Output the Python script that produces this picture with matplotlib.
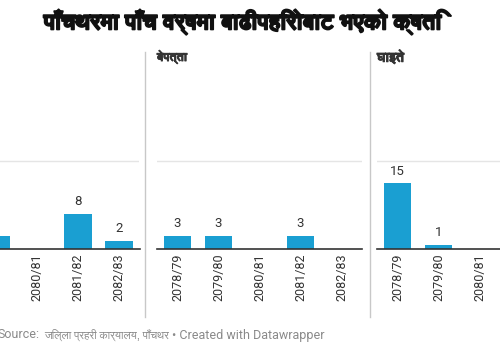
import matplotlib
matplotlib.use("Agg")
import matplotlib.pyplot as plt
from matplotlib import font_manager
from matplotlib.ft2font import FT2Font
from matplotlib.lines import Line2D
import matplotlib.patheffects as pe

# -- Data --------------------------------------------------------------------

years = ["2078/79", "2079/80", "2080/81", "2081/82", "2082/83"]
panel_titles = ["मृत्यु", "बेपत्ता", "घाइते"]
deaths = [4, 3, 0, 8, 2]      # first value is off-screen in the reference
missing = [3, 3, 0, 3, 0]
injured = [15, 1, 0, 0, 0]    # last two are off-screen in the reference
panel_values = [deaths, missing, injured]

title = "पाँचथरमा पाँच वर्षमा बाढीपहिरोबाट भएको क्षति"
source_lbl = "Source:"
source_org = "जिल्ला प्रहरी कार्यालय, पाँचथर"
credit = "• Created with Datawrapper"

# -- Style -------------------------------------------------------------------

W, H = 500, 350
BAR = "#1a9fd2"
DARK = "#333333"
GRID = "#e5e5e5"
SEP = "#c8c8c8"
GREY = "#8a8a8a"


def find_devanagari():
    names = {}
    for f in font_manager.fontManager.ttflist:
        try:
            if 0x092A in FT2Font(f.fname).get_charmap():
                names.setdefault(f.name, []).append(f.weight)
        except Exception:
            pass
    if not names:
        return "DejaVu Sans"
    for name, weights in names.items():
        if any(isinstance(w, int) and w >= 600 or w == "bold"
               for w in weights):
            return name
    return next(iter(names))


DEV = find_devanagari()
LATIN = "Roboto"


def fx(px):
    return px / W


def fy(py):
    # py measured from the top of the image
    return 1 - py / H


fig = plt.figure(figsize=(W / 100, H / 100), dpi=100)
fig.patch.set_facecolor("white")
renderer = fig.canvas.get_renderer()


def width_px(t):
    return t.get_window_extent(renderer).width


def fit_width(t, target):
    t.set_fontsize(t.get_fontsize() * target / width_px(t))


# panel plot areas (left edge in px); the outer panels run off the image
panel_left = [-65.5, 157, 377]
panel_w = 205
base_y = 249.3
ymax = 40
px_per_unit = 4.4
title_w = [30, 30, 27]

for left, ptitle, vals, tw in zip(panel_left, panel_titles, panel_values,
                                  title_w):
    ax = fig.add_axes([fx(left), fy(base_y), panel_w / W,
                       ymax * px_per_unit / H])
    x = range(len(years))
    ax.bar(x, vals, width=0.68, color=BAR, zorder=2)
    for xi, v in zip(x, vals):
        if v:
            ax.text(xi, v + 1.3, str(v), ha="center", va="bottom",
                    fontsize=9.5, color=DARK, fontfamily=LATIN)
    ax.set_xlim(-0.5, len(years) - 0.5)
    ax.set_ylim(0, ymax)
    ax.set_yticks([20])
    ax.yaxis.grid(True, color=GRID, lw=1, zorder=0)
    ax.tick_params(axis="y", length=0, labelleft=False)
    ax.set_xticks(list(x))
    ax.set_xticklabels(years, rotation=90, fontsize=9, color=DARK,
                       fontfamily=LATIN)
    ax.tick_params(axis="x", length=0, pad=3)
    for s in ["top", "right", "left"]:
        ax.spines[s].set_visible(False)
    ax.spines["bottom"].set_color(DARK)
    ax.spines["bottom"].set_linewidth(1.2)
    ax.spines["bottom"].set_zorder(3)
    ax.set_facecolor("none")
    t = fig.text(fx(left), fy(57), ptitle, ha="left", va="center",
                 fontsize=9, fontweight="bold", color=DARK, fontfamily=DEV,
                 path_effects=[pe.withStroke(linewidth=0.6,
                                             foreground=DARK)])
    fit_width(t, tw)

# separators between panels
for sx in [145, 370]:
    fig.add_artist(Line2D([fx(sx), fx(sx)], [fy(52), fy(317)],
                          color=SEP, lw=1))

t = fig.text(fx(242), fy(22), title, ha="center", va="center", fontsize=19,
             fontweight="bold", color="#111111", fontfamily=DEV,
             path_effects=[pe.withStroke(linewidth=1.2,
                                         foreground="#111111")])
fit_width(t, 398)

# footer built from pieces so the Devanagari part can be sized on its own
s1 = fig.text(fx(-2), fy(335), source_lbl, ha="left", va="center",
              fontsize=9, color=GREY, fontfamily=LATIN)
x1 = -2 + width_px(s1) + 4
s2 = fig.text(fx(x1), fy(335), source_org, ha="left", va="center",
              fontsize=9, color=GREY, fontfamily=DEV)
fit_width(s2, 125)
x2 = x1 + width_px(s2) + 3
fig.text(fx(x2), fy(335), credit, ha="left", va="center",
         fontsize=9, color=GREY, fontfamily=LATIN)

fig.savefig("out.png", dpi=100, facecolor="white")
